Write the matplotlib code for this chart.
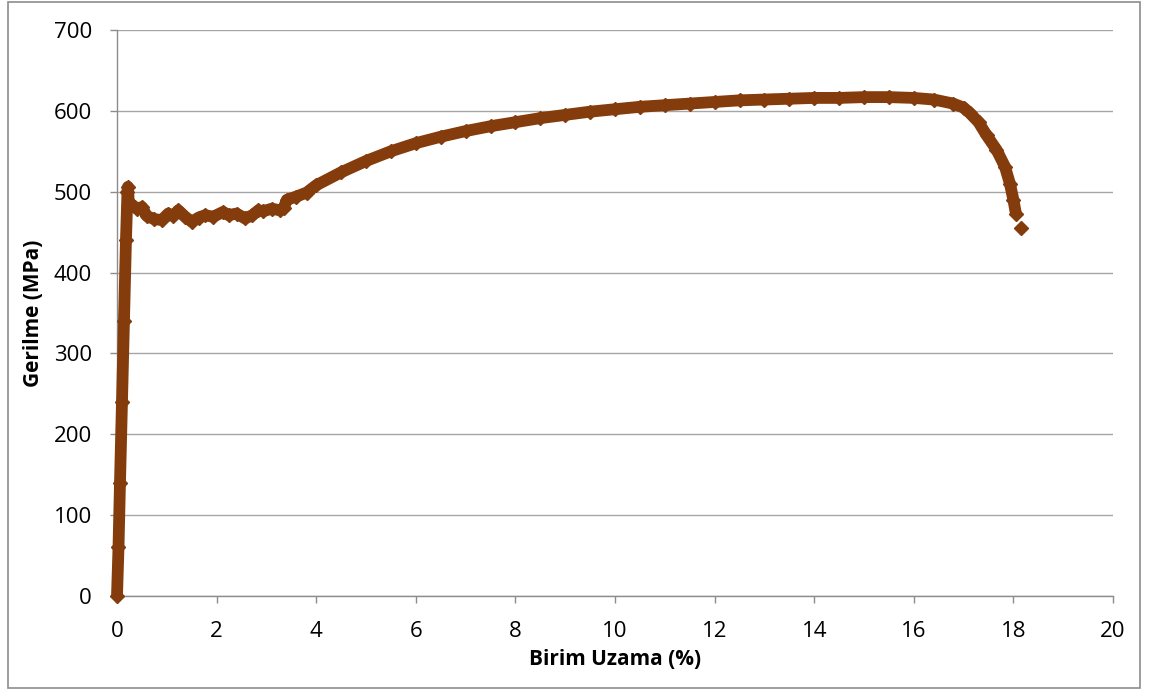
#%% IMPORTS
import matplotlib.pyplot as plt
from matplotlib.patches import Rectangle

#%% DATA
# tensile test: strain (%) vs stress (MPa)
strain = [0.0, 0.03, 0.06, 0.10, 0.14, 0.18, 0.21, 0.22, 0.24, 0.30, 0.40,
          0.50, 0.60, 0.75, 0.90, 1.03, 1.13, 1.23, 1.37, 1.50, 1.64, 1.77,
          1.93, 2.13, 2.24, 2.40, 2.57, 2.72, 2.84, 2.94, 3.11, 3.27, 3.35,
          3.41, 3.60, 3.81, 4.0, 4.5, 5.0, 5.5, 6.0, 6.5, 7.0, 7.5, 8.0,
          8.5, 9.0, 9.5, 10.0, 10.5, 11.0, 11.5, 12.0, 12.5, 13.0, 13.5,
          14.0, 14.5, 15.0, 15.5, 16.0, 16.4, 16.79, 17.0, 17.13, 17.3,
          17.46, 17.66, 17.83, 17.93, 18.0, 18.05]
stress = [0, 60, 140, 240, 340, 440, 500, 506, 482, 484, 479,
          481, 470, 466, 465, 473, 470, 477, 469, 463, 468, 471,
          469, 475, 471, 473, 467, 471, 477, 476, 479, 477, 480,
          490, 494, 499, 508, 524, 538, 550, 560, 568, 575, 581, 586,
          591, 595, 599, 602, 605, 607, 609, 611, 613, 614, 615,
          616, 616, 617, 617, 616, 614, 609, 604, 597, 586,
          570, 552, 531, 510, 490, 473]
# final recorded point after fracture onset
last_strain = [18.15]
last_stress = [455]

x_ticks = list(range(0, 21, 2))
y_ticks = list(range(0, 701, 100))

#%% PLOT
line_color = '#843C0C'
grid_color = '#A6A6A6'

plt.rcParams['font.family'] = ['Open Sans', 'DejaVu Sans']

fig = plt.figure(figsize=(11.49, 6.90), dpi=100)
fig.patches.append(Rectangle((8 / 1149, 2 / 690), 1132 / 1149, 686 / 690,
                             transform=fig.transFigure, fill=False,
                             edgecolor='#8C8C8C', linewidth=1.2))

ax = fig.add_axes([117 / 1149, 94 / 690, 996 / 1149, 566 / 690])
# curve is drawn unclipped so the elastic segment keeps its full width at x=0
ax.plot(strain, stress, color=line_color, linewidth=8.5, marker='D',
        markersize=7.5, solid_joinstyle='round', solid_capstyle='butt',
        clip_on=False, zorder=3)
ax.plot(last_strain, last_stress, color=line_color, linestyle='none',
        marker='D', markersize=7.5, clip_on=False, zorder=3)

ax.set_xlim(0, 20)
ax.set_ylim(0, 700)
ax.set_xticks(x_ticks)
ax.set_yticks(y_ticks)
ax.yaxis.grid(True, color=grid_color, linewidth=1.0)
ax.set_axisbelow(True)

for side in ('top', 'right'):
    ax.spines[side].set_visible(False)
for side in ('left', 'bottom'):
    ax.spines[side].set_color('#8C8C8C')
    ax.spines[side].set_linewidth(1.0)

ax.tick_params(axis='both', direction='out', length=5, width=1.0,
               color='#8C8C8C', labelsize=16, labelcolor='black')
ax.tick_params(axis='x', pad=13)
ax.tick_params(axis='y', pad=13)

ax.set_xlabel('Birim Uzama (%)', fontsize=15, fontweight='bold', labelpad=5)
ax.set_ylabel('Gerilme (MPa)', fontsize=15, fontweight='bold', labelpad=7)

fig.savefig('out.png', dpi=100)
plt.close(fig)
